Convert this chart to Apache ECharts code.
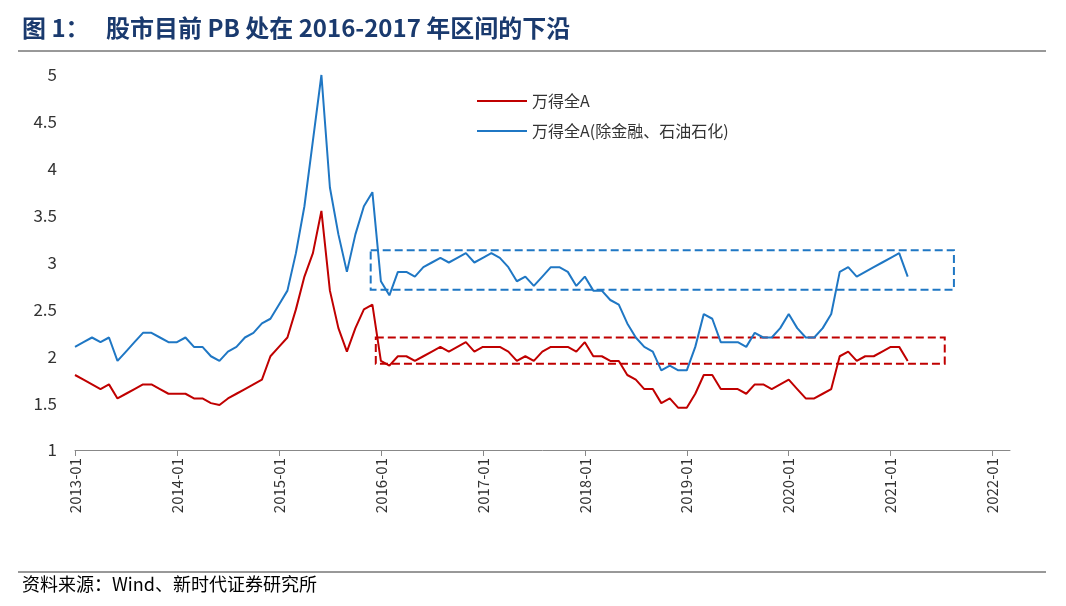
<!DOCTYPE html>
<html><head><meta charset="utf-8">
<script src="https://cdn.jsdelivr.net/npm/echarts@6/dist/echarts.min.js"></script>
<style>html,body{margin:0;padding:0;background:#fff}#c{width:1066px;height:606px}</style>
</head><body><div id="c"></div>
<script>
const startYear = 2013;
const red = [1.8,1.75,1.7,1.65,1.7,1.55,1.6,1.65,1.7,1.7,1.65,1.6,
 1.6,1.6,1.55,1.55,1.5,1.48,1.55,1.6,1.65,1.7,1.75,2.0,
 2.1,2.2,2.5,2.85,3.1,3.55,2.7,2.3,2.05,2.3,2.5,2.55,
 1.95,1.9,2.0,2.0,1.95,2.0,2.05,2.1,2.05,2.1,2.15,2.05,
 2.1,2.1,2.1,2.05,1.95,2.0,1.95,2.05,2.1,2.1,2.1,2.05,
 2.15,2.0,2.0,1.95,1.95,1.8,1.75,1.65,1.65,1.5,1.55,1.45,
 1.45,1.6,1.8,1.8,1.65,1.65,1.65,1.6,1.7,1.7,1.65,1.7,
 1.75,1.65,1.55,1.55,1.6,1.65,2.0,2.05,1.95,2.0,2.0,2.05,
 2.1,2.1,1.95];
const blue = [2.1,2.15,2.2,2.15,2.2,1.95,2.05,2.15,2.25,2.25,2.2,2.15,
 2.15,2.2,2.1,2.1,2.0,1.95,2.05,2.1,2.2,2.25,2.35,2.4,
 2.55,2.7,3.1,3.6,4.3,5.0,3.8,3.3,2.9,3.3,3.6,3.75,
 2.8,2.65,2.9,2.9,2.85,2.95,3.0,3.05,3.0,3.05,3.1,3.0,
 3.05,3.1,3.05,2.95,2.8,2.85,2.75,2.85,2.95,2.95,2.9,2.75,
 2.85,2.7,2.7,2.6,2.55,2.35,2.2,2.1,2.05,1.85,1.9,1.85,
 1.85,2.1,2.45,2.4,2.15,2.15,2.15,2.1,2.25,2.2,2.2,2.3,
 2.45,2.3,2.2,2.2,2.3,2.45,2.9,2.95,2.85,2.9,2.95,3.0,
 3.05,3.1,2.85];
const xTicks = ['2013-01','2014-01','2015-01','2016-01','2017-01','2018-01','2019-01','2020-01','2021-01','2022-01'];
const yTicks = [1,1.5,2,2.5,3,3.5,4,4.5,5];
const toPts = a => a.map((v,i)=>[startYear + i/12, v]);
const blueBox = [[2015.9,3.13],[2021.62,2.71]];
const redBox = [[2015.95,2.2],[2021.53,1.92]];
const chart = echarts.init(document.getElementById('c'));
chart.setOption({
 animation:false,
 textStyle:{fontFamily:'"Noto Sans CJK SC","Liberation Serif",serif'},
 graphic:[
  {type:'text',left:22,top:16,style:{text:'图 1：   股市目前 PB 处在 2016-2017 年区间的下沿',fill:'#1a3a6e',font:'bold 24px "Noto Sans CJK SC", serif'}},
  {type:'line',shape:{x1:18,y1:51,x2:1046,y2:51},style:{stroke:'#333',lineWidth:1}},
  {type:'line',shape:{x1:18,y1:572,x2:1046,y2:572},style:{stroke:'#333',lineWidth:1}},
  {type:'text',left:22,top:575,style:{text:'资料来源：Wind、新时代证券研究所',fill:'#000',font:'18px "Noto Sans CJK SC", serif'}}
 ],
 legend:{left:472,top:88,orient:'vertical',itemGap:14,itemWidth:50,itemHeight:2,icon:'rect',
  textStyle:{fontSize:16,color:'#333'},data:['万得全A','万得全A(除金融、石油石化)']},
 grid:{left:75,right:56,top:75,bottom:156},
 xAxis:{type:'value',min:2013,max:2022.17,interval:1,splitLine:{show:false},
  axisLine:{lineStyle:{color:'#888'}},axisTick:{lineStyle:{color:'#888'},length:6},
  axisLabel:{rotate:90,fontSize:15,color:'#333',showMaxLabel:false,
   formatter:v=>{const i=Math.round(v)-startYear;return Math.abs(v-Math.round(v))<1e-6&&xTicks[i]?xTicks[i]:'';}}},
 yAxis:{type:'value',min:1,max:5,interval:0.5,splitLine:{show:false},axisLine:{show:false},axisTick:{show:false},
  axisLabel:{fontSize:17,color:'#333',margin:18,formatter:v=>yTicks.includes(v)?String(v):''}},
 series:[
  {name:'万得全A',type:'line',data:toPts(red),showSymbol:false,lineStyle:{color:'#c00000',width:2},itemStyle:{color:'#c00000'},
   markArea:{silent:true,itemStyle:{color:'rgba(0,0,0,0)',borderColor:'#c00000',borderWidth:2,borderType:'dashed'},
    data:[[{coord:redBox[0]},{coord:redBox[1]}]]}},
  {name:'万得全A(除金融、石油石化)',type:'line',data:toPts(blue),showSymbol:false,lineStyle:{color:'#1f77c4',width:2},itemStyle:{color:'#1f77c4'},
   markArea:{silent:true,itemStyle:{color:'rgba(0,0,0,0)',borderColor:'#1f77c4',borderWidth:2,borderType:'dashed'},
    data:[[{coord:blueBox[0]},{coord:blueBox[1]}]]}}
 ]
});
</script></body></html>
